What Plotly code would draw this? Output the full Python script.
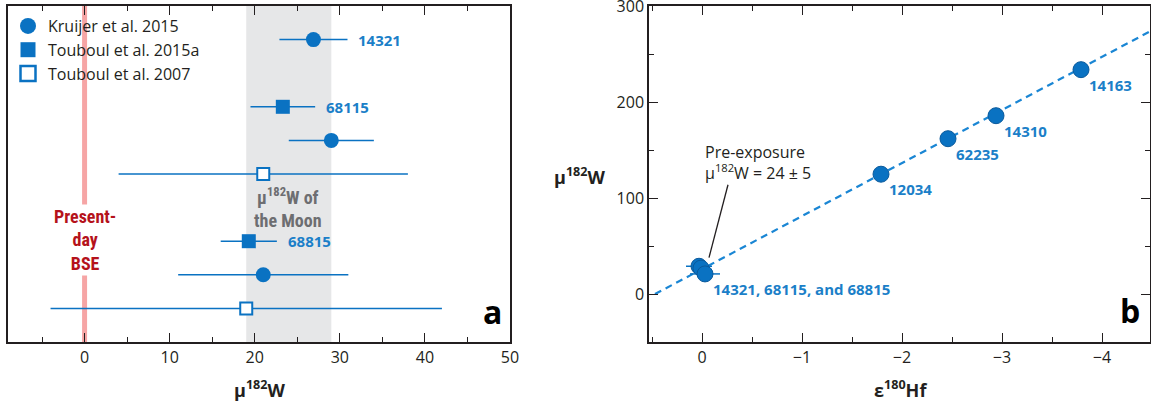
import plotly.graph_objects as go

# ---------------- data: panel a ----------------
rows = [9, 7, 6, 5, 3, 2, 1]                      # row slots (top to bottom)
mu_a = [26.9, 23.3, 29.0, 21.0, 19.3, 21.0, 19.0]
err_a = [4.0, 3.8, 5.0, 17.0, 3.3, 10.0, 23.0]
source_a = ["K", "T15", "K", "T07", "T15", "K", "T07"]
label_a = ["14321", "68115", "", "", "68815", "", ""]
moon_lo, moon_hi = 19, 29
bse = 0

# ---------------- data: panel b ----------------
eps_b = [0.03, 0.01, -0.03, -1.79, -2.46, -2.94, -3.79]
mu_b = [29, 27, 21, 125, 162, 186, 234]
ex_b = [0.13, 0.0, 0.15, 0.05, 0.05, 0.05, 0.05]
ey_b = [3, 3, 8, 8, 7, 7, 5]
label_b = ["", "", "14321, 68115, and 68815", "12034", "62235", "14310", "14163"]
fit_x = [0.47, -4.5]
fit_y = [0, 275]
leader_x = [-0.26, -0.07]
leader_y = [114, 38]

W, H = 1151, 403
BLUE = "#0a72c2"
BLUE_EDGE = "#0a5a9c"
TXT_BLUE = "#1b7fc8"
DARK = "#231f20"
FONT = "Open Sans"
COND = "Roboto Condensed, Liberation Sans Narrow, Arial Narrow, Roboto, sans-serif"


def px_x(p):
    return p / W


def px_y(p):
    return 1 - p / H


fig = go.Figure()

sym = {"K": "circle", "T15": "square", "T07": "square"}
fill = {"K": BLUE, "T15": BLUE, "T07": "white"}
size = {"K": 15, "T15": 14, "T07": 12}
names = {"K": "Kruijer et al. 2015", "T15": "Touboul et al. 2015a", "T07": "Touboul et al. 2007"}

for s in ["K", "T15", "T07"]:
    idx = [i for i, v in enumerate(source_a) if v == s]
    fig.add_trace(go.Scatter(
        x=[mu_a[i] for i in idx], y=[rows[i] for i in idx],
        mode="markers", showlegend=False,
        marker=dict(symbol=sym[s], size=size[s], color=fill[s],
                    line=dict(color=BLUE, width=2 if s == "T07" else 0)),
        error_x=dict(type="data", array=[err_a[i] for i in idx], color=BLUE,
                     thickness=1.5, width=0),
        xaxis="x", yaxis="y"))
    fig.add_trace(go.Scatter(
        x=[None], y=[None], mode="markers", name=names[s],
        marker=dict(symbol=sym[s], size=16 if s == "K" else 15, color=fill[s],
                    line=dict(color=BLUE, width=2.5 if s == "T07" else 0)),
        xaxis="x", yaxis="y"))

fig.add_trace(go.Scatter(
    x=fit_x, y=fit_y, mode="lines", showlegend=False,
    line=dict(color="#1a86d4", width=2.2, dash="7px,5px"),
    xaxis="x2", yaxis="y2"))
fig.add_trace(go.Scatter(
    x=eps_b, y=mu_b, mode="markers", showlegend=False,
    marker=dict(symbol="circle", size=16, color=BLUE,
                line=dict(color=BLUE_EDGE, width=1)),
    error_x=dict(type="data", array=ex_b, color=BLUE, thickness=1.5, width=0),
    error_y=dict(type="data", array=ey_b, color=BLUE, thickness=1.5, width=0),
    xaxis="x2", yaxis="y2"))

shapes = [
    dict(type="rect", xref="x", yref="y domain", x0=moon_lo, x1=moon_hi, y0=0, y1=1,
         fillcolor="#e6e7e8", line=dict(width=0), layer="below"),
    dict(type="line", xref="x", yref="y domain", x0=bse, x1=bse, y0=0, y1=1,
         line=dict(color="#f6a5a5", width=5), layer="below"),
    dict(type="line", xref="x2", yref="y2", x0=leader_x[0], x1=leader_x[1],
         y0=leader_y[0], y1=leader_y[1], line=dict(color=DARK, width=1.3)),
]

ann = []
for i, t in enumerate(label_a):
    if t:
        ann.append(dict(x=mu_a[i] + err_a[i], y=rows[i], xref="x", yref="y", text=t,
                        showarrow=False, xanchor="left", yanchor="middle", xshift=9,
                        font=dict(family=FONT, size=15, color=TXT_BLUE, weight="bold")))
for i, t in enumerate(label_b):
    if t:
        ann.append(dict(x=eps_b[i], y=mu_b[i], xref="x2", yref="y2", text=t,
                        showarrow=False, xanchor="left", yanchor="middle", xshift=6, yshift=-15,
                        font=dict(family=FONT, size=15, color=TXT_BLUE, weight="bold")))


def pann(x, y, text, size, bold=True, color=DARK, xa="center"):
    return dict(x=px_x(x), y=px_y(y), xref="paper", yref="paper", text=text,
                showarrow=False, xanchor=xa, yanchor="middle",
                font=dict(family=FONT, size=size, color=color,
                          weight="bold" if bold else "normal"))


ann += [
    dict(x=bse, y=3.05, xref="x", yref="y", text="Present-<br>day<br>BSE", showarrow=False,
         xanchor="center", yanchor="middle", bgcolor="white", align="center",
         font=dict(family=COND, size=18, color="#b5121b", weight="bold")),
    dict(x=(moon_lo + moon_hi) / 2 - 0.1, y=4.0, xref="x", yref="y",
         text="μ<sup>182</sup>W of<br>the Moon", showarrow=False, align="center",
         xanchor="center", yanchor="middle",
         font=dict(family=COND, size=18, color="#6d6e71", weight="bold")),
    pann(492, 311, "a", 32, color="black"),
    pann(1130, 310, "b", 32, color="black"),
    pann(260, 389, "μ<sup>182</sup>W", 18),
    pann(900, 389, "ε<sup>180</sup>Hf", 18),
    pann(580, 176, "μ<sup>182</sup>W", 18),
    dict(x=px_x(703), y=px_y(162), xref="paper", yref="paper",
         text="Pre-exposure<br>μ<sup>182</sup>W = 24 ± 5", showarrow=False,
         xanchor="left", yanchor="middle", align="left",
         font=dict(family=FONT, size=16, color=DARK)),
]

axis_common = dict(showline=True, linecolor=DARK, linewidth=1.5, mirror="allticks",
                   showgrid=False, zeroline=False, ticks="inside", tickcolor=DARK,
                   tickwidth=1.3, ticklen=9, ticklabeloverflow="allow", automargin=False,
                   tickfont=dict(family=FONT, size=16, color=DARK))

fig.update_layout(
    width=W, height=H, margin=dict(l=0, r=0, t=0, b=0, autoexpand=False),
    paper_bgcolor="white", plot_bgcolor="white",
    xaxis=dict(domain=[px_x(8), px_x(510)], range=[-9, 50], dtick=10, tick0=0,
               minor=dict(ticks="inside", dtick=5, ticklen=5, tickcolor=DARK, tickwidth=1.3),
               anchor="y", **axis_common),
    yaxis=dict(domain=[px_y(342), px_y(6)], range=[0, 10], showline=True, linecolor=DARK,
               linewidth=1.5, mirror=True, showgrid=False, zeroline=False, automargin=False,
               showticklabels=False, ticks="", anchor="x"),
    xaxis2=dict(domain=[px_x(649), px_x(1150)], range=[0.53, -4.48], dtick=1, tick0=0,
                minor=dict(ticks="inside", dtick=0.5, ticklen=5, tickcolor=DARK, tickwidth=1.3),
                anchor="y2", **axis_common),
    yaxis2=dict(domain=[px_y(342), px_y(6)], range=[-50, 300.4], dtick=100, tick0=0,
                minor=dict(ticks="inside", dtick=50, ticklen=5, tickcolor=DARK, tickwidth=1.3),
                anchor="x2", **axis_common),
    legend=dict(x=px_x(8), y=px_y(9), xanchor="left", yanchor="top",
                bgcolor="rgba(0,0,0,0)", font=dict(family=FONT, size=16, color=DARK),
                itemclick=False),
    shapes=shapes, annotations=ann,
)

fig.write_html("out.html")
